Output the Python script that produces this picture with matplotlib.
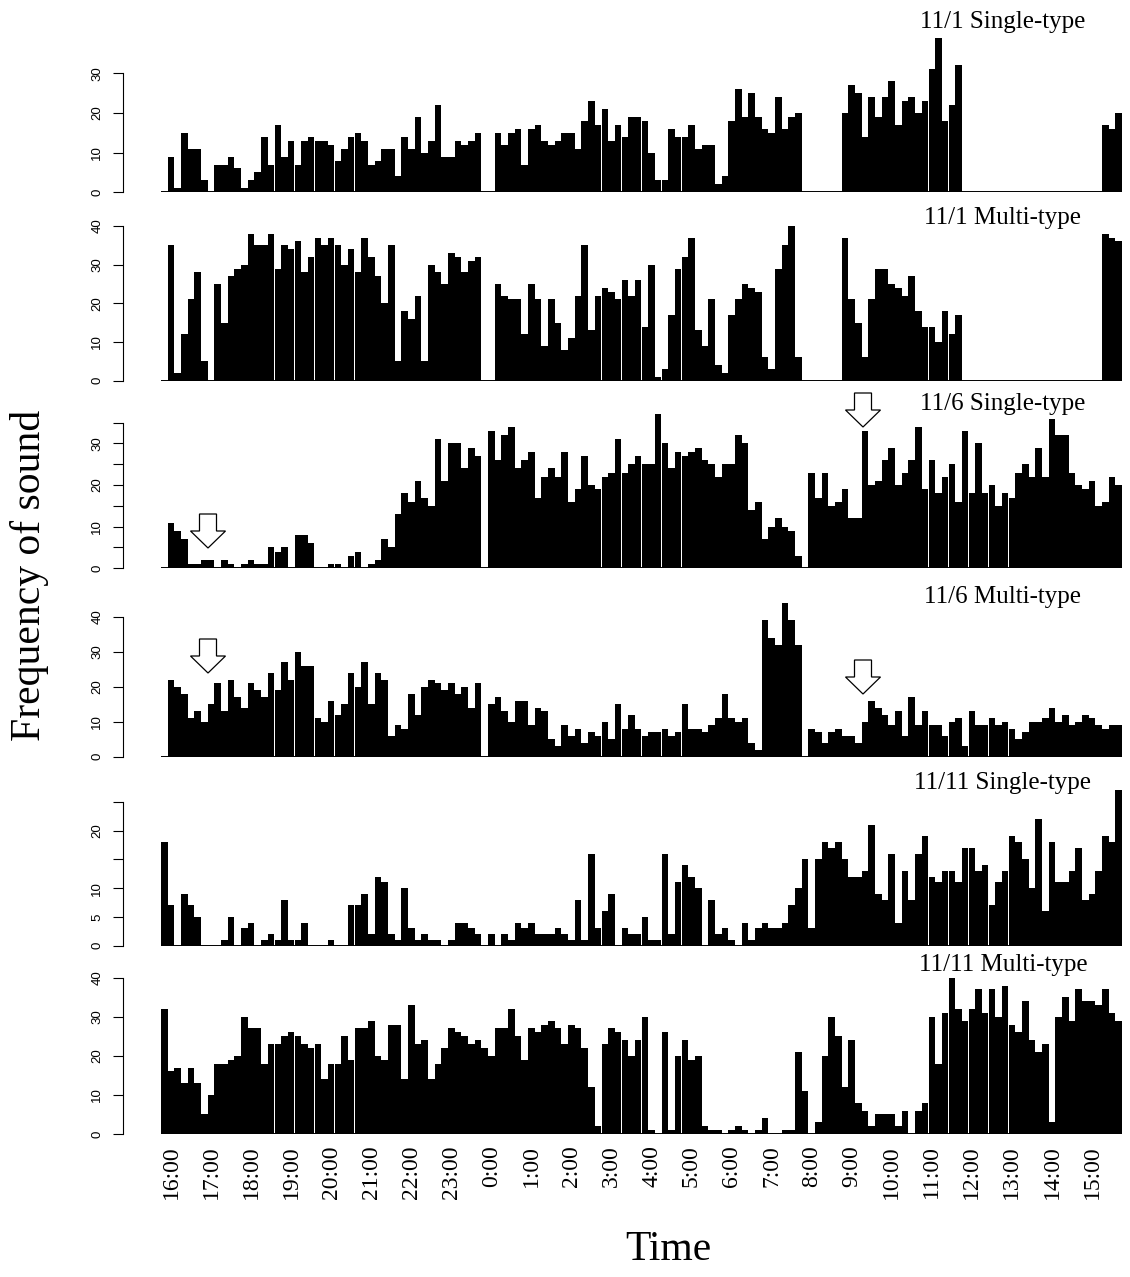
#! /usr/bin/env python3

import numpy as np
import matplotlib
matplotlib.use("Agg")
import matplotlib.pyplot as plt
from matplotlib.patches import Polygon

# 10-minute bins from 16:00 to 15:50 the next day (144 bins)
hours = ["16:00", "17:00", "18:00", "19:00", "20:00", "21:00", "22:00", "23:00",
         "0:00", "1:00", "2:00", "3:00", "4:00", "5:00", "6:00", "7:00",
         "8:00", "9:00", "10:00", "11:00", "12:00", "13:00", "14:00", "15:00"]

single_1101 = [0, 9, 1, 15, 11, 11, 3, 0, 7, 7,
               9, 6, 1, 3, 5, 14, 7, 17, 9, 13,
               7, 13, 14, 13, 13, 12, 8, 11, 14, 15,
               13, 7, 8, 11, 11, 4, 14, 11, 19, 10,
               13, 22, 9, 9, 13, 12, 13, 15, 0, 0,
               15, 12, 15, 16, 7, 16, 17, 13, 12, 13,
               15, 15, 11, 18, 23, 17, 21, 13, 17, 14,
               19, 19, 18, 10, 3, 3, 16, 14, 14, 17,
               11, 12, 12, 2, 4, 18, 26, 19, 25, 19,
               16, 15, 24, 16, 19, 20, 0, 0, 0, 0,
               0, 0, 20, 27, 25, 14, 24, 19, 24, 28,
               17, 23, 24, 20, 23, 31, 39, 18, 22, 32,
               0, 0, 0, 0, 0, 0, 0, 0, 0, 0,
               0, 0, 0, 0, 0, 0, 0, 0, 0, 0,
               0, 17, 16, 20]

multi_1101 = [0, 35, 2, 12, 21, 28, 5, 0, 25, 15,
              27, 29, 30, 38, 35, 35, 38, 29, 35, 34,
              36, 28, 32, 37, 35, 37, 35, 30, 34, 28,
              37, 32, 27, 20, 35, 5, 18, 16, 22, 5,
              30, 28, 25, 33, 32, 28, 31, 32, 0, 0,
              25, 22, 21, 21, 12, 25, 21, 9, 21, 15,
              8, 11, 22, 35, 13, 22, 24, 23, 21, 26,
              22, 26, 14, 30, 1, 3, 17, 29, 32, 37,
              13, 9, 21, 4, 2, 17, 21, 25, 24, 23,
              6, 3, 29, 35, 40, 6, 0, 0, 0, 0,
              0, 0, 37, 21, 15, 6, 21, 29, 29, 25,
              24, 22, 27, 18, 14, 14, 10, 18, 12, 17,
              0, 0, 0, 0, 0, 0, 0, 0, 0, 0,
              0, 0, 0, 0, 0, 0, 0, 0, 0, 0,
              0, 38, 37, 36]

single_1106 = [0, 11, 9, 7, 1, 1, 2, 2, 0, 2,
               1, 0, 1, 2, 1, 1, 5, 4, 5, 0,
               8, 8, 6, 0, 0, 1, 1, 0, 3, 4,
               0, 1, 2, 7, 5, 13, 18, 16, 21, 17,
               15, 31, 21, 30, 30, 24, 29, 27, 0, 33,
               26, 32, 34, 24, 26, 28, 17, 22, 24, 22,
               28, 16, 19, 27, 20, 19, 22, 23, 31, 23,
               25, 27, 25, 25, 37, 30, 24, 28, 27, 28,
               29, 26, 25, 22, 25, 25, 32, 30, 14, 16,
               7, 10, 12, 10, 9, 3, 0, 23, 17, 23,
               15, 16, 19, 12, 12, 33, 20, 21, 26, 29,
               20, 23, 26, 34, 19, 26, 18, 22, 25, 16,
               33, 18, 30, 18, 20, 15, 18, 17, 23, 25,
               22, 29, 22, 36, 32, 32, 23, 20, 19, 21,
               15, 16, 22, 20]

multi_1106 = [0, 22, 20, 18, 11, 13, 10, 15, 21, 13,
              22, 17, 14, 21, 19, 17, 24, 19, 27, 22,
              30, 26, 26, 11, 10, 16, 12, 15, 24, 20,
              27, 15, 24, 22, 6, 9, 8, 18, 12, 20,
              22, 21, 19, 21, 18, 20, 14, 21, 0, 15,
              17, 13, 10, 16, 16, 9, 14, 13, 5, 3,
              9, 6, 8, 4, 7, 6, 10, 5, 15, 8,
              12, 8, 6, 7, 7, 8, 6, 7, 15, 8,
              8, 7, 9, 11, 18, 11, 10, 11, 4, 2,
              39, 34, 32, 44, 39, 32, 0, 8, 7, 4,
              7, 8, 6, 6, 4, 10, 16, 14, 12, 9,
              13, 6, 17, 9, 13, 9, 9, 6, 10, 11,
              3, 13, 9, 9, 11, 9, 10, 8, 5, 7,
              10, 10, 11, 14, 10, 12, 9, 10, 12, 11,
              9, 8, 9, 9]

single_1111 = [18, 7, 0, 9, 7, 5, 0, 0, 0, 1,
               5, 0, 3, 4, 0, 1, 2, 1, 8, 1,
               1, 4, 0, 0, 0, 1, 0, 0, 7, 7,
               9, 2, 12, 11, 2, 1, 10, 3, 1, 2,
               1, 1, 0, 1, 4, 4, 3, 2, 0, 2,
               0, 2, 1, 4, 3, 4, 2, 2, 2, 3,
               2, 1, 8, 1, 16, 3, 6, 9, 0, 3,
               2, 2, 5, 1, 1, 16, 2, 11, 14, 12,
               10, 0, 8, 2, 3, 1, 0, 4, 1, 3,
               4, 3, 3, 4, 7, 10, 15, 3, 15, 18,
               17, 18, 15, 12, 12, 13, 21, 9, 8, 16,
               4, 13, 8, 16, 19, 12, 11, 13, 13, 11,
               17, 17, 13, 14, 7, 11, 13, 19, 18, 15,
               10, 22, 6, 18, 11, 11, 13, 17, 8, 9,
               13, 19, 18, 27]

multi_1111 = [32, 16, 17, 13, 17, 13, 5, 10, 18, 18,
              19, 20, 30, 27, 27, 18, 23, 23, 25, 26,
              25, 23, 22, 23, 14, 18, 18, 25, 19, 27,
              27, 29, 20, 19, 28, 28, 14, 33, 23, 24,
              14, 18, 22, 27, 26, 25, 23, 24, 22, 20,
              27, 27, 32, 25, 19, 27, 26, 28, 29, 27,
              23, 28, 27, 22, 12, 2, 23, 27, 26, 24,
              20, 24, 30, 1, 0, 26, 1, 20, 24, 19,
              20, 2, 1, 1, 0, 1, 2, 1, 0, 1,
              4, 0, 0, 1, 1, 21, 11, 0, 3, 20,
              30, 25, 12, 24, 8, 6, 2, 5, 5, 5,
              2, 6, 0, 6, 8, 30, 18, 31, 40, 32,
              29, 32, 37, 31, 37, 30, 38, 28, 26, 34,
              24, 21, 23, 3, 30, 35, 29, 37, 34, 34,
              33, 37, 31, 29]

panel_titles = ["11/1 Single-type", "11/1 Multi-type",
                "11/6 Single-type", "11/6 Multi-type",
                "11/11 Single-type", "11/11 Multi-type"]

panel_ticks = [[0, 10, 20, 30],
               [0, 10, 20, 30, 40],
               [0, 5, 10, 15, 20, 25, 30, 35],
               [0, 10, 20, 30, 40],
               [0, 5, 10, 15, 20, 25],
               [0, 10, 20, 30, 40]]
panel_ticklabels = [["0", "10", "20", "30"],
                    ["0", "10", "20", "30", "40"],
                    ["0", "", "10", "", "20", "", "30", ""],
                    ["0", "10", "20", "30", "40"],
                    ["0", "5", "10", "", "20", ""],
                    ["0", "10", "20", "30", "40"]]

series = [single_1101, multi_1101, single_1106, multi_1106, single_1111, multi_1111]

# layout in pixels of the 1130 x 1277 figure
W, H = 1130, 1277
base_px = [192.3, 380.7, 568.3, 756.7, 945.7, 1134.0]   # y of zero
top_px = [73.3, 226.0, 422.7, 616.7, 801.7, 977.7]      # y of the top tick
title_px = [22, 218, 404, 597, 783, 965]
arrow_tips = [(208, 548), (863, 427), (208, 673), (863, 694)]
left_px, right_px = 161, 1122
ax_h = 185

serif = ["Liberation Serif", "DejaVu Serif"]
sans = ["Liberation Sans", "DejaVu Sans"]


def fx(px):
    return px / W


def fy(py):
    return 1 - py / H


fig = plt.figure(figsize=(W / 100, H / 100), dpi=100)

x = np.arange(144)
for k in range(6):
    b = base_px[k]
    top_val = panel_ticks[k][-1]
    s = (b - top_px[k]) / top_val
    ax = fig.add_axes([fx(left_px), fy(b), (right_px - left_px) / W, ax_h / H])
    ax.patch.set_visible(False)
    ax.set_xlim(-0.5, 143.5)
    ax.set_ylim(0, ax_h / s)

    ax.hlines(0, -0.5, 143.5, color="black", lw=1.4, zorder=1)
    ax.bar(x, series[k], width=0.985, color="black", linewidth=0, zorder=2, clip_on=False)

    for side in ["top", "right", "bottom"]:
        ax.spines[side].set_visible(False)
    ax.spines["left"].set_position(("outward", 38 * 0.72))
    ax.spines["left"].set_bounds(0, top_val)
    ax.spines["left"].set_linewidth(0.8)

    ax.set_yticks(panel_ticks[k])
    ax.set_yticklabels(panel_ticklabels[k], rotation=90, va="center", family=sans)
    ax.tick_params(axis="y", direction="out", length=7.2, width=0.8, labelsize=9.5, pad=7)

    if k == 5:
        ax.set_xticks(np.arange(24) * 6 + 1)
        ax.set_xticklabels(hours, rotation=90, family=serif, fontsize=17)
        ax.tick_params(axis="x", length=0, pad=8)
    else:
        ax.set_xticks([])

    fig.text(fx(1003), fy(title_px[k]), panel_titles[k], ha="center", va="center",
             family=serif, fontsize=18)

# hollow arrows marking the points of interest
for (tx, ty) in arrow_tips:
    top = ty - 34
    verts = [(tx - 8.5, top), (tx + 8.5, top), (tx + 8.5, top + 17), (tx + 17.5, top + 17),
             (tx, ty), (tx - 17.5, top + 17), (tx - 8.5, top + 17)]
    verts = [(fx(a), fy(c)) for (a, c) in verts]
    fig.add_artist(Polygon(verts, closed=True, transform=fig.transFigure,
                           facecolor="white", edgecolor="black", lw=0.9))

fig.text(fx(30), fy(575), "Frequency of sound", rotation=90, ha="center", va="center",
         family=serif, fontsize=30)
fig.text(fx(668), fy(1250), "Time", ha="center", va="center", family=serif, fontsize=30)

fig.savefig("out.png", dpi=100)
